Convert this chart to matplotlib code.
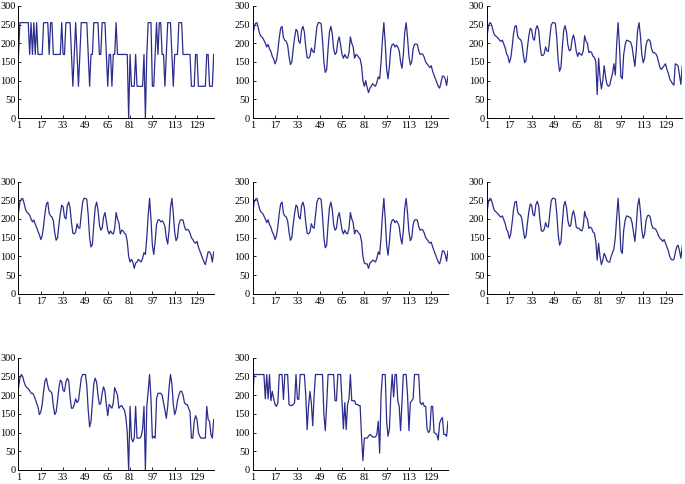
import matplotlib
matplotlib.use("Agg")
import matplotlib.pyplot as plt

plt.rcParams['font.family'] = ['Liberation Serif', 'DejaVu Serif']

# values, one point per frame index 1..141
series_1 = [170, 255, 255, 255, 255, 255, 255, 255, 170, 255, 170, 255, 170, 255, 170, 170, 170, 170, 255, 255,
            255, 255, 170, 255, 255, 170, 170, 170, 170, 170, 170, 255, 170, 170, 255, 255, 255, 255, 170, 85,
            170, 255, 170, 85, 170, 255, 255, 255, 255, 255, 170, 85, 170, 170, 255, 255, 255, 255, 170, 170,
            255, 255, 255, 170, 85, 170, 170, 85, 170, 170, 255, 170, 170, 170, 170, 170, 170, 170, 170, 0,
            170, 85, 85, 85, 170, 85, 85, 85, 85, 85, 170, 0, 170, 255, 255, 255, 85, 85, 170, 255,
            170, 255, 255, 170, 170, 85, 170, 255, 255, 255, 170, 85, 170, 170, 170, 255, 255, 255, 170, 170,
            170, 170, 170, 170, 85, 85, 85, 170, 170, 85, 85, 85, 85, 85, 85, 170, 170, 85, 85, 85, 170]

series_2 = [215, 245, 253, 255, 240, 225, 218, 215, 208, 200, 190, 197, 185, 178, 165, 158, 145, 155, 180, 215,
            240, 245, 215, 208, 205, 195, 165, 143, 150, 185, 215, 237, 232, 205, 200, 235, 245, 230, 190, 162,
            160, 165, 187, 178, 175, 210, 245, 255, 255, 252, 210, 150, 122, 130, 185, 230, 245, 225, 185, 170,
            175, 205, 217, 195, 170, 160, 170, 162, 160, 175, 217, 200, 190, 160, 170, 168, 162, 158, 140, 100,
            85, 100, 82, 68, 80, 85, 92, 88, 85, 95, 110, 105, 150, 210, 255, 200, 130, 105, 140, 185,
            197, 198, 190, 195, 190, 180, 150, 133, 170, 230, 255, 215, 165, 142, 150, 185, 197, 198, 197, 180,
            170, 172, 170, 162, 150, 145, 140, 135, 140, 125, 115, 105, 95, 85, 80, 95, 112, 112, 105, 87, 112]

series_3 = [220, 245, 255, 252, 238, 225, 220, 217, 213, 208, 205, 208, 198, 188, 172, 165, 148, 160, 190, 225,
            245, 247, 218, 212, 210, 200, 170, 148, 155, 190, 220, 240, 236, 212, 208, 238, 247, 235, 195, 168,
            167, 172, 190, 180, 178, 215, 248, 255, 255, 253, 215, 155, 125, 135, 190, 235, 247, 230, 195, 180,
            182, 210, 222, 205, 178, 165, 175, 170, 168, 180, 220, 205, 200, 175, 178, 175, 165, 162, 150, 63,
            160, 110, 78, 100, 140, 110, 90, 85, 88, 105, 120, 145, 115, 200, 255, 190, 110, 105, 170, 195,
            208, 207, 205, 203, 190, 165, 138, 180, 235, 255, 220, 170, 148, 160, 195, 208, 210, 205, 185, 175,
            175, 172, 165, 150, 135, 130, 135, 140, 145, 130, 120, 105, 98, 92, 88, 145, 143, 140, 115, 90, 140]

series_4 = [218, 245, 253, 255, 242, 226, 218, 215, 210, 200, 192, 197, 186, 178, 166, 158, 145, 155, 182, 215,
            240, 245, 215, 208, 205, 195, 163, 143, 150, 185, 215, 237, 232, 205, 200, 235, 245, 230, 190, 162,
            160, 165, 187, 176, 175, 212, 245, 255, 255, 252, 210, 150, 125, 132, 185, 230, 245, 225, 185, 170,
            175, 205, 217, 195, 170, 160, 168, 162, 160, 175, 217, 200, 190, 160, 170, 168, 162, 158, 140, 100,
            85, 92, 85, 68, 82, 85, 92, 88, 85, 95, 110, 105, 150, 210, 255, 200, 130, 105, 140, 185,
            197, 198, 192, 195, 190, 180, 150, 133, 170, 230, 255, 215, 165, 142, 150, 185, 197, 198, 197, 180,
            170, 172, 170, 162, 150, 145, 138, 135, 140, 125, 115, 105, 95, 85, 78, 95, 112, 112, 105, 85, 112]

series_5 = [215, 245, 253, 255, 240, 225, 218, 215, 208, 200, 190, 198, 185, 178, 165, 158, 145, 155, 180, 215,
            240, 245, 215, 208, 205, 195, 165, 143, 150, 185, 215, 237, 232, 205, 200, 235, 245, 230, 190, 162,
            160, 165, 187, 178, 175, 210, 245, 255, 255, 252, 210, 150, 123, 130, 185, 230, 245, 225, 185, 170,
            175, 205, 217, 195, 170, 160, 170, 162, 160, 175, 217, 200, 190, 160, 170, 168, 162, 158, 140, 100,
            82, 80, 80, 68, 82, 85, 90, 88, 85, 95, 112, 105, 150, 210, 255, 200, 130, 103, 140, 185,
            197, 198, 190, 195, 190, 180, 150, 133, 170, 230, 255, 215, 165, 142, 150, 185, 197, 198, 197, 180,
            170, 172, 170, 162, 150, 145, 140, 135, 138, 125, 115, 105, 95, 85, 80, 95, 115, 114, 105, 87, 115]

series_6 = [220, 245, 255, 252, 238, 225, 220, 217, 213, 208, 205, 208, 198, 188, 172, 165, 148, 160, 190, 225,
            245, 247, 218, 212, 210, 200, 170, 148, 155, 190, 220, 240, 236, 212, 208, 238, 247, 235, 195, 168,
            167, 172, 190, 180, 178, 215, 248, 255, 255, 253, 215, 160, 130, 138, 190, 235, 247, 230, 195, 180,
            182, 210, 222, 205, 178, 175, 175, 170, 168, 180, 220, 205, 200, 175, 178, 175, 165, 162, 140, 90,
            135, 100, 78, 90, 108, 100, 88, 85, 85, 100, 110, 120, 150, 205, 255, 195, 115, 108, 170, 195,
            208, 207, 205, 203, 190, 165, 140, 180, 235, 255, 220, 170, 148, 160, 195, 208, 210, 205, 185, 175,
            175, 172, 165, 155, 148, 145, 140, 145, 135, 125, 115, 100, 92, 90, 92, 110, 125, 130, 115, 95, 128]

series_7 = [220, 245, 255, 250, 235, 225, 220, 217, 212, 205, 205, 200, 190, 178, 168, 148, 155, 175, 210, 238,
            245, 225, 212, 210, 205, 170, 148, 155, 185, 220, 240, 236, 212, 210, 235, 245, 238, 195, 165, 165,
            175, 190, 180, 185, 215, 245, 255, 255, 255, 225, 160, 115, 130, 180, 230, 245, 235, 200, 175, 178,
            205, 222, 210, 175, 145, 175, 170, 165, 180, 220, 210, 200, 165, 170, 172, 165, 160, 140, 100, 0,
            170, 85, 75, 85, 170, 85, 85, 85, 90, 110, 170, 0, 170, 210, 255, 190, 85, 90, 85, 190,
            205, 205, 205, 200, 180, 160, 138, 170, 220, 255, 230, 175, 148, 160, 185, 200, 210, 210, 200, 180,
            175, 175, 165, 155, 85, 85, 130, 145, 135, 100, 90, 85, 85, 85, 85, 170, 135, 130, 95, 85, 135]

series_8 = [195, 255, 255, 255, 255, 255, 255, 255, 255, 190, 255, 190, 255, 185, 210, 190, 175, 170, 180, 255,
            255, 255, 188, 255, 255, 255, 175, 172, 172, 175, 180, 255, 190, 188, 255, 255, 255, 255, 200, 108,
            170, 210, 180, 118, 200, 255, 255, 255, 255, 255, 255, 150, 105, 175, 255, 255, 255, 255, 255, 185,
            185, 255, 255, 255, 180, 110, 180, 108, 175, 190, 255, 185, 185, 185, 175, 175, 172, 172, 90, 25,
            85, 85, 85, 90, 95, 92, 88, 88, 88, 95, 130, 45, 200, 255, 255, 255, 130, 90, 110, 200,
            255, 195, 255, 255, 185, 170, 105, 180, 255, 255, 255, 200, 105, 180, 185, 190, 255, 255, 255, 255,
            180, 175, 180, 170, 170, 110, 100, 105, 170, 170, 100, 97, 95, 80, 125, 135, 140, 95, 95, 90, 130]

frames = list(range(1, 142))
x_ticks = [1, 17, 33, 49, 65, 81, 97, 113, 129]
y_ticks = [0, 50, 100, 150, 200, 250, 300]

all_series = [series_1, series_2, series_3, series_4, series_5, series_6, series_7, series_8]

fig = plt.figure(figsize=(6.85, 4.84), dpi=100)

col_left = [0.027, 0.369, 0.711]
row_bottom = [0.756, 0.393, 0.029]
w, h = 0.285, 0.232

for i, s in enumerate(all_series):
    r, c = divmod(i, 3)
    ax = fig.add_axes([col_left[c], row_bottom[r], w, h])
    ax.plot(frames, s, color="#2b2d8c", linewidth=0.9)
    ax.set_xlim(1, 141)
    ax.set_ylim(0, 300)
    ax.set_xticks(x_ticks)
    ax.set_yticks(y_ticks)
    ax.spines['top'].set_visible(False)
    ax.spines['right'].set_visible(False)
    for sp in ('left', 'bottom'):
        ax.spines[sp].set_linewidth(0.7)
    ax.tick_params(direction='in', length=2, width=0.6, labelsize=7.5, pad=2)

fig.savefig("out.png", dpi=100)
